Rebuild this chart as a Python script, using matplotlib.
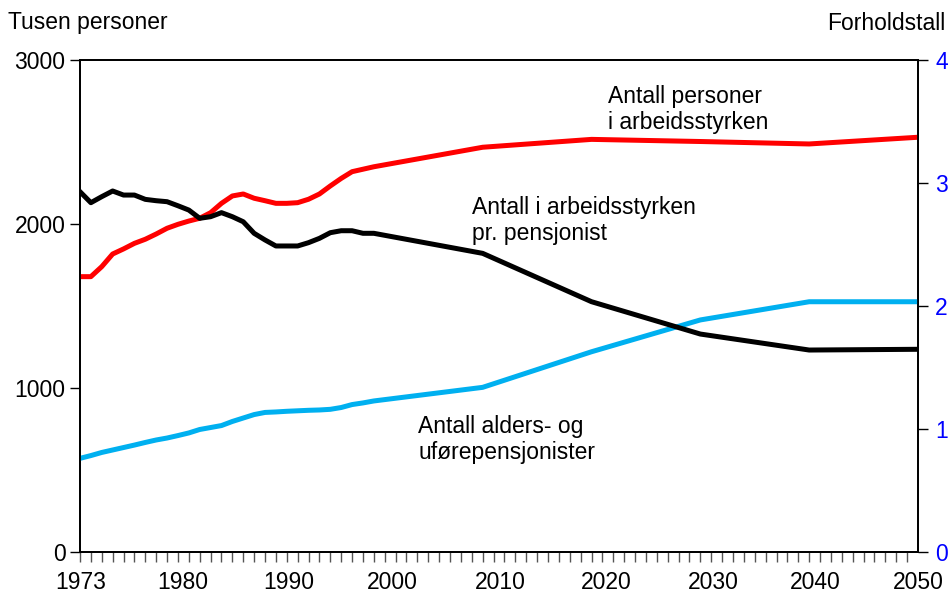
import matplotlib
matplotlib.use("Agg")
import matplotlib.pyplot as plt
import numpy as np

plt.rcParams['font.family'] = ['Liberation Sans', 'DejaVu Sans']

# ---- data ----
years = [1973, 1974, 1975, 1976, 1977, 1978, 1979, 1980, 1981, 1982, 1983, 1984,
         1985, 1986, 1987, 1988, 1989, 1990, 1991, 1992, 1993, 1994, 1995, 1996,
         1997, 1998, 1999, 2000, 2010, 2020, 2030, 2040, 2050]

labour_force = [1679, 1679, 1740, 1817, 1848, 1882, 1907, 1939, 1974, 1998, 2018, 2035,
                2069, 2126, 2171, 2183, 2157, 2142, 2126, 2126, 2130, 2151, 2183, 2232,
                2278, 2319, 2334, 2349, 2468, 2516, 2503, 2488, 2529]

pensioners = [571, 588, 607, 622, 637, 652, 668, 683, 695, 710, 726, 747,
              759, 771, 796, 817, 838, 851, 854, 858, 861, 864, 866, 870,
              881, 899, 909, 921, 1004, 1221, 1415, 1526, 1526]

ratio = [2.929, 2.840, 2.889, 2.935, 2.902, 2.902, 2.867, 2.856, 2.848, 2.815, 2.780, 2.713,
         2.726, 2.759, 2.726, 2.685, 2.591, 2.537, 2.488, 2.488, 2.488, 2.515, 2.550, 2.596,
         2.612, 2.612, 2.591, 2.591, 2.428, 2.035, 1.772, 1.642, 1.648]

xtick_labels = ['1973', '1980', '1990', '2000', '2010', '2020', '2030', '2040', '2050']
xtick_pos = [1973.1, 1982.4, 1992.2, 2001.7, 2011.6, 2021.4, 2031.2, 2040.6, 2050.0]

left_ticks = [0, 1000, 2000, 3000]
right_ticks = [0, 1, 2, 3, 4]

RED = '#FF0000'
BLUE = '#00B0F0'
FS = 16.5

fig = plt.figure(figsize=(9.53, 5.94), dpi=100)
ax = fig.add_axes([80/953, 42/594, (918-80)/953, (552-60)/594])
ax2 = ax.twinx()

ax.plot(years, labour_force, color=RED, lw=3.6, solid_joinstyle='round', zorder=3)
ax.plot(years, pensioners, color=BLUE, lw=3.6, solid_joinstyle='round', zorder=3)
ax2.plot(years, ratio, color='black', lw=3.6, solid_joinstyle='round', zorder=3)

ax.set_xlim(1973, 2050)
ax.set_ylim(0, 3000)
ax2.set_ylim(0, 4)

ax.set_yticks(left_ticks)
ax.set_yticklabels([str(v) for v in left_ticks], fontsize=FS)
ax2.set_yticks(right_ticks)
ax2.set_yticklabels([str(v) for v in right_ticks], fontsize=FS, color='#0000FF')

ax.set_xticks(xtick_pos)
ax.set_xticklabels(xtick_labels, fontsize=FS)
ax.set_xticks(np.arange(1973, 2051, 1), minor=True)
ax.tick_params(axis='x', which='major', length=0, pad=14)
ax.tick_params(axis='x', which='minor', length=7.5, width=1.0, color='#555555', direction='out')
ax.tick_params(axis='y', which='major', length=7.5, width=1.0, direction='out', pad=3)
ax2.tick_params(axis='y', which='major', length=7.5, width=1.0, direction='out', pad=5)

for a in (ax, ax2):
    for s in a.spines.values():
        s.set_linewidth(1.3)
        s.set_color('black')

fig.text(8/953, 1 - 23/594, 'Tusen personer', fontsize=FS, ha='left', va='center')
fig.text(945/953, 1 - 23/594, 'Forholdstall', fontsize=FS, ha='right', va='center')

ax.text(2021.5, 2845, 'Antall personer\ni arbeidsstyrken', fontsize=FS,
        ha='left', va='top', linespacing=1.15)
ax.text(2009.0, 2170, 'Antall i arbeidsstyrken\npr. pensjonist', fontsize=FS,
        ha='left', va='top', linespacing=1.15)
ax.text(2004.1, 835, 'Antall alders- og\nuførepensjonister', fontsize=FS,
        ha='left', va='top', linespacing=1.15)

fig.savefig('out.png', dpi=100)
